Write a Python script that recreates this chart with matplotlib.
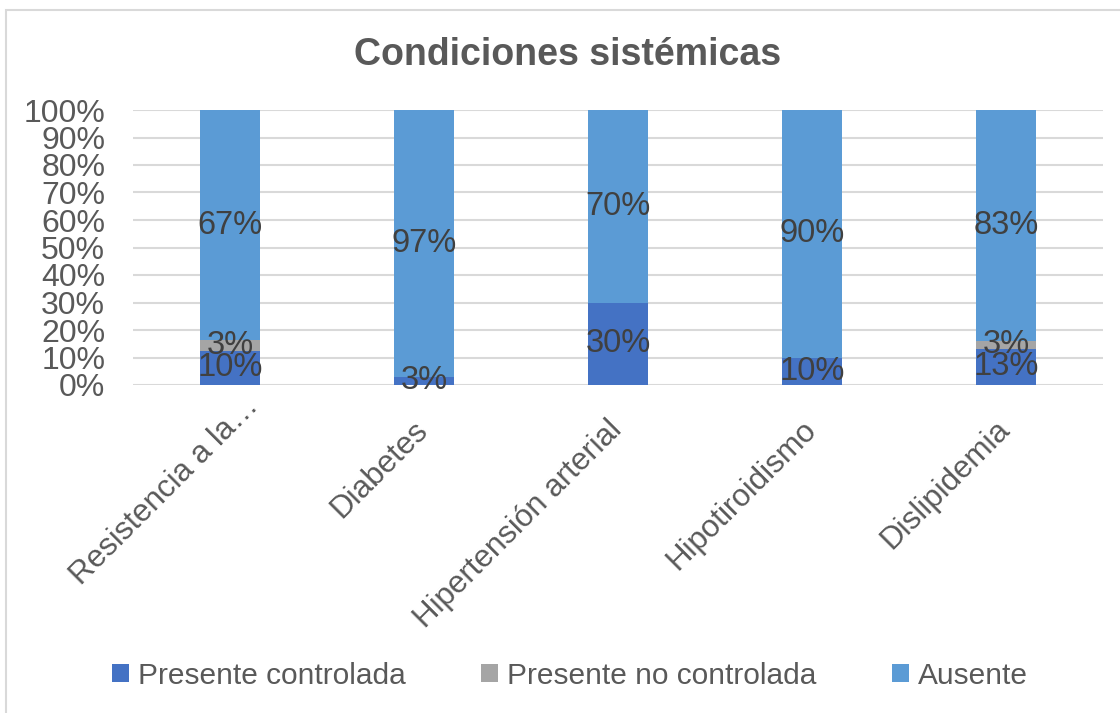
import numpy as np
import matplotlib.pyplot as plt
from matplotlib.patches import Rectangle
from matplotlib.transforms import ScaledTranslation

plt.rcParams['font.family'] = ['Liberation Sans', 'DejaVu Sans']

categorias = ['Resistencia a la…', 'Diabetes', 'Hipertensión arterial',
              'Hipotiroidismo', 'Dislipidemia']
controlada = [10, 3, 30, 10, 13]
no_controlada = [3, 0, 0, 0, 3]
ausente = [67, 97, 70, 90, 83]
series = ['Presente controlada', 'Presente no controlada', 'Ausente']
colores = ['#4472C4', '#A5A5A5', '#5B9BD5']

texto = '#595959'

# 100% apilado: cada barra se normaliza a su total
datos = np.array([controlada, no_controlada, ausente], dtype=float)
frac = datos / datos.sum(axis=0)

fig = plt.figure(figsize=(11.2, 7.13), dpi=100)
ax = fig.add_axes([133/1120, 1-385/713, 970/1120, 275/713])

x = np.arange(len(categorias))
base = np.zeros(len(categorias))
for i in range(3):
    ax.bar(x, frac[i], 0.31, bottom=base, color=colores[i], label=series[i], zorder=2)
    for j in range(len(categorias)):
        if datos[i, j] > 0:
            ax.text(x[j], base[j] + frac[i, j] / 2, '{:.0f}%'.format(datos[i, j]),
                    ha='center', va='center', fontsize=23.5, color='#404040', zorder=3)
    base = base + frac[i]

ax.set_xlim(-0.5, len(categorias) - 0.5)
ax.set_ylim(0, 1)
ax.set_yticks(np.arange(0, 1.01, 0.1))
ax.set_yticklabels(['{}%'.format(v) for v in range(0, 101, 10)])
ax.yaxis.grid(True, color='#D9D9D9', linewidth=1.5, zorder=0)
ax.set_axisbelow(True)
for s in ax.spines.values():
    s.set_visible(False)
ax.tick_params(axis='both', length=0, labelcolor=texto)
ax.tick_params(axis='y', pad=20, labelsize=23)
ax.set_xticks(x)
ax.set_xticklabels(categorias, rotation=45, ha='right', va='top', rotation_mode='anchor')
ax.tick_params(axis='x', pad=12, labelsize=22.5)

# ajuste fino de las etiquetas giradas (la truncada queda mas arriba)
for k, lab in enumerate(ax.get_xticklabels()):
    dx, dy = (13, 11) if k == 0 else (-11, -13)
    lab.set_transform(lab.get_transform() + ScaledTranslation(dx/100, dy/100, fig.dpi_scale_trans))

fig.text(568/1120, 1-55/713, 'Condiciones sistémicas', ha='center', va='center',
         fontsize=27, fontweight='bold', color=texto)

fig.legend(loc='center', bbox_to_anchor=(570/1120, 1-676/713), ncol=3, frameon=False,
           fontsize=21.5, labelcolor=texto, handlelength=0.55, handleheight=0.55,
           handletextpad=0.3, columnspacing=2.55)

fig.patches.append(Rectangle((6/1120, -0.1), 1.2, 1.1 - 10/713,
                             transform=fig.transFigure, fill=False,
                             edgecolor='#D9D9D9', linewidth=1.5))

fig.savefig('out.png', dpi=100)
